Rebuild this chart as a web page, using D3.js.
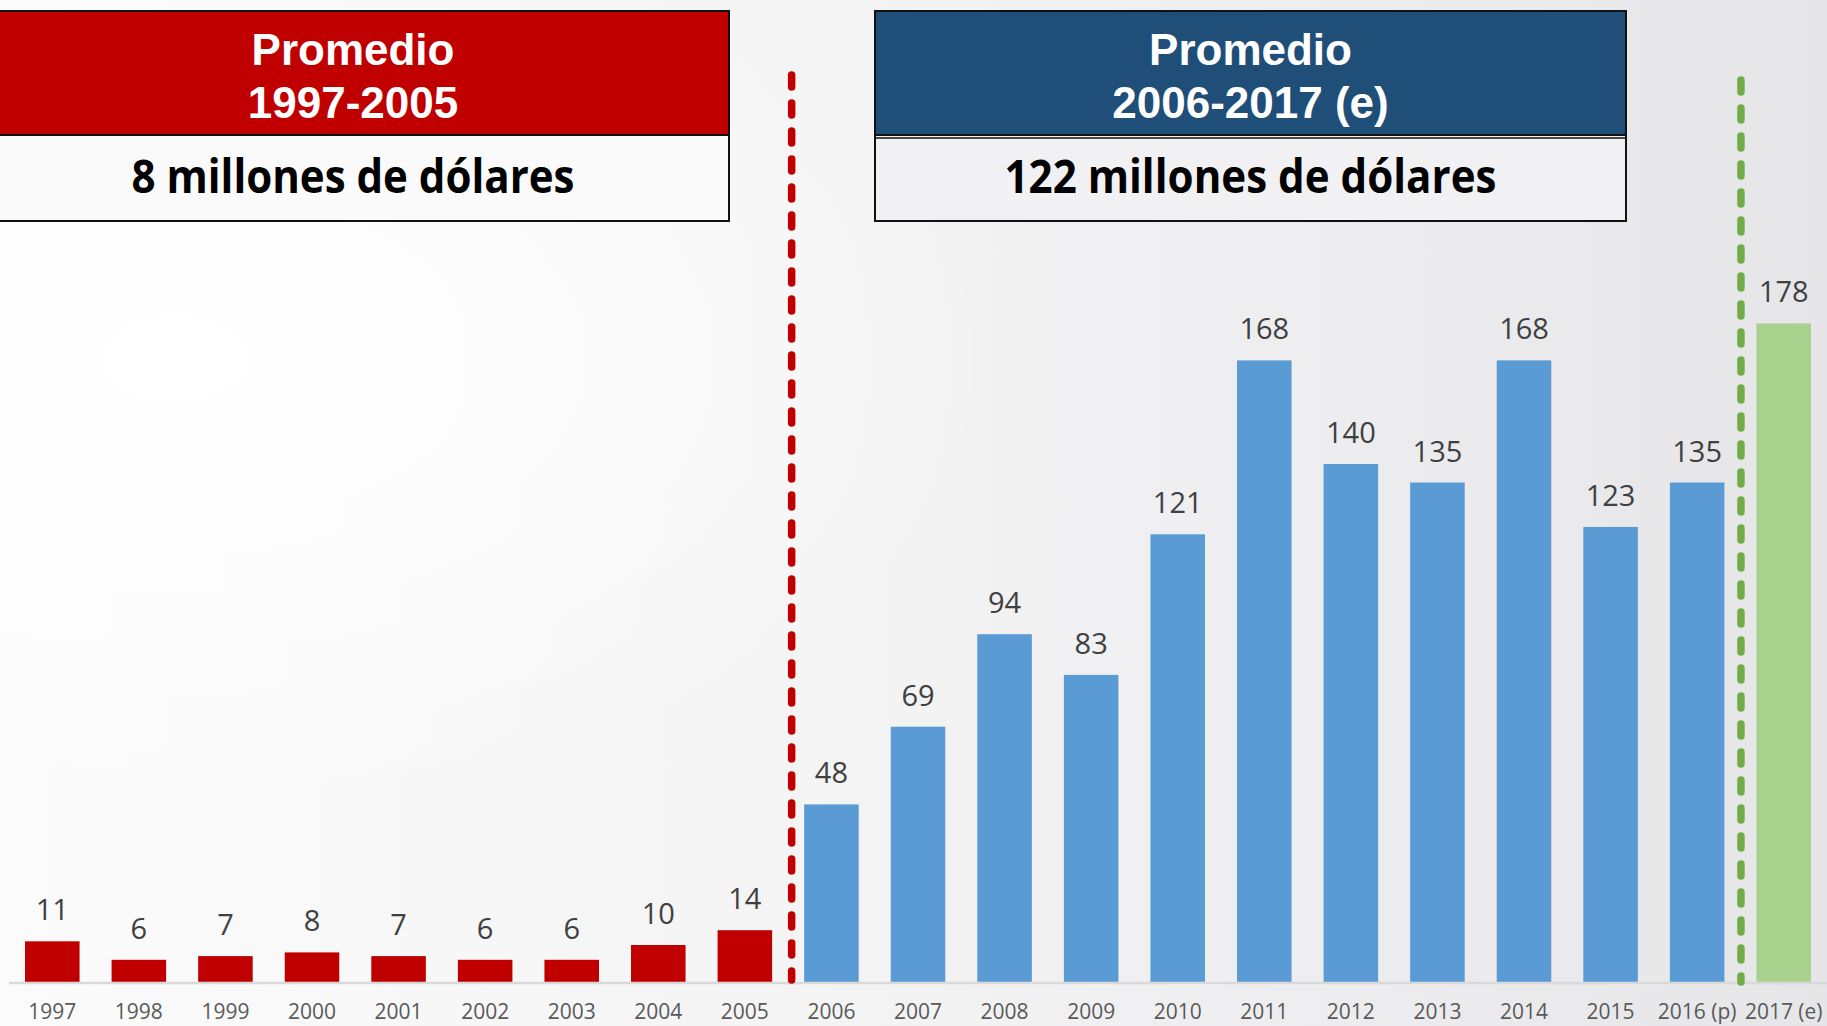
<!DOCTYPE html>
<html>
<head>
<meta charset="utf-8">
<script src="https://cdn.jsdelivr.net/npm/d3@7"></script>
<style>
  html, body { margin: 0; padding: 0; overflow: hidden; background: #f4f4f5; }
  svg { display: block; }
</style>
</head>
<body>
<svg id="chart" width="1827" height="1026"></svg>
<script>
// ---- Data ----
const years = ["1997","1998","1999","2000","2001","2002","2003","2004","2005",
               "2006","2007","2008","2009","2010","2011","2012","2013","2014","2015","2016 (p)","2017 (e)"];
const values = [11, 6, 7, 8, 7, 6, 6, 10, 14,
                48, 69, 94, 83, 121, 168, 140, 135, 168, 123, 135, 178];
const periods = ["early","early","early","early","early","early","early","early","early",
                 "late","late","late","late","late","late","late","late","late","late","late","estimate"];
const boxTitles = [["Promedio", "1997-2005"], ["Promedio", "2006-2017 (e)"]];
const boxSubtitles = ["8 millones de dólares", "122 millones de dólares"];

// ---- Setup ----
const W = 1827, H = 1026;
const svg = d3.select("#chart");
const colors = { early: "#c00000", late: "#5b9bd5", estimate: "#a9d18e" };

const defs = svg.append("defs");
const bg = defs.append("linearGradient").attr("id", "bg").attr("x1", "0").attr("x2", "1").attr("y1", "0").attr("y2", "0");
bg.append("stop").attr("offset", "0%").attr("stop-color", "#fbfbfb");
bg.append("stop").attr("offset", "45%").attr("stop-color", "#f4f4f5");
bg.append("stop").attr("offset", "100%").attr("stop-color", "#e6e6e9");
const glow = defs.append("radialGradient").attr("id", "glow").attr("cx", "0.1").attr("cy", "0.35").attr("r", "0.45");
glow.append("stop").attr("offset", "0%").attr("stop-color", "#ffffff").attr("stop-opacity", 1);
glow.append("stop").attr("offset", "100%").attr("stop-color", "#ffffff").attr("stop-opacity", 0);

svg.append("rect").attr("width", W).attr("height", H).attr("fill", "url(#bg)");
svg.append("rect").attr("width", W).attr("height", H).attr("fill", "url(#glow)");

const data = years.map((y, i) => ({ year: y, value: values[i], period: periods[i] }));

const x = d3.scaleBand().domain(years).range([9, 1827]).paddingInner(0.37).paddingOuter(0.185);
const y = d3.scaleLinear().domain([0, 178]).range([982, 982 - 178 * 3.70]);

// ---- Bars ----
svg.append("g").selectAll("rect").data(data).join("rect")
  .attr("x", d => x(d.year))
  .attr("y", d => y(d.value))
  .attr("width", x.bandwidth())
  .attr("height", d => y(0) - y(d.value))
  .attr("fill", d => colors[d.period]);

// ---- Axis ----
const axis = d3.axisBottom(x).tickSize(0).tickPadding(0);
const gAxis = svg.append("g").attr("transform", `translate(0,${y(0)})`).call(axis);
gAxis.select(".domain").attr("stroke", "#d9d9d9").attr("stroke-width", 2.5).attr("d", `M9,1H${W}`);
gAxis.selectAll(".tick text")
  .attr("y", 37).attr("dy", 0)
  .attr("fill", "#595959")
  .style("font-family", "'Open Sans', sans-serif")
  .style("font-size", "21px");

// ---- Value labels ----
svg.append("g").selectAll("text").data(data).join("text")
  .attr("x", d => x(d.year) + x.bandwidth() / 2)
  .attr("y", d => y(d.value) - 21)
  .attr("text-anchor", "middle")
  .attr("fill", "#404040")
  .style("font-family", "'Open Sans', sans-serif")
  .style("font-size", "29px")
  .text(d => d.value);

// ---- Dashed separators ----
const gap = x.step() - x.bandwidth();
const sepRed = x("2006") - gap / 2 + 3.5;
const sepGreen = x("2017 (e)") - gap / 2 + 0.5;
svg.append("line").attr("x1", sepRed).attr("x2", sepRed).attr("y1", 75).attr("y2", 980)
  .attr("stroke", "#c00000").attr("stroke-width", 7.5).attr("stroke-linecap", "round")
  .attr("stroke-dasharray", "12,16");
svg.append("line").attr("x1", sepGreen).attr("x2", sepGreen).attr("y1", 80).attr("y2", 982)
  .attr("stroke", "#70ad47").attr("stroke-width", 7.5).attr("stroke-linecap", "round")
  .attr("stroke-dasharray", "12,16");

// ---- Boxes ----
const boxes = [
  { x0: -23, x1: 729, fill: "#c00000", title: boxTitles[0], sub: boxSubtitles[0], subW: 443, dbl: false },
  { x0: 875, x1: 1626, fill: "#1f4e79", title: boxTitles[1], sub: boxSubtitles[1], subW: 492, dbl: true }
];
boxes.forEach(b => {
  const g = svg.append("g");
  const cx = (b.x0 + b.x1) / 2;
  g.append("rect").attr("x", b.x0).attr("y", 11).attr("width", b.x1 - b.x0).attr("height", 124).attr("fill", b.fill);
  g.append("rect").attr("x", b.x0).attr("y", 135).attr("width", b.x1 - b.x0).attr("height", 86)
    .attr("fill", b.dbl ? "#f1f1f3" : "#fafafa");
  g.append("rect").attr("x", b.x0).attr("y", 11).attr("width", b.x1 - b.x0).attr("height", 210)
    .attr("fill", "none").attr("stroke", "#111").attr("stroke-width", 2);
  g.append("line").attr("x1", b.x0).attr("x2", b.x1).attr("y1", 135).attr("y2", 135).attr("stroke", "#111").attr("stroke-width", 2);
  if (b.dbl) g.append("line").attr("x1", b.x0).attr("x2", b.x1).attr("y1", 138).attr("y2", 138).attr("stroke", "#111").attr("stroke-width", 1.5);
  g.append("text").attr("x", cx).attr("y", 65).attr("text-anchor", "middle").attr("fill", "#fff")
    .style("font-family", "'Liberation Sans', Arial, sans-serif").style("font-weight", "bold").style("font-size", "44px")
    .text(b.title[0]);
  g.append("text").attr("x", cx).attr("y", 118).attr("text-anchor", "middle").attr("fill", "#fff")
    .style("font-family", "'Liberation Sans', Arial, sans-serif").style("font-weight", "bold").style("font-size", "44px")
    .text(b.title[1]);
  const t = g.append("text").attr("x", cx).attr("y", 193).attr("text-anchor", "middle").attr("fill", "#000")
    .style("font-family", "'Open Sans', sans-serif").style("font-weight", "bold").style("font-size", "46px")
    .text(b.sub);
  const nat = t.node().getComputedTextLength();
  if (nat > b.subW) t.attr("textLength", b.subW).attr("lengthAdjust", "spacingAndGlyphs");
});
</script>
</body>
</html>
